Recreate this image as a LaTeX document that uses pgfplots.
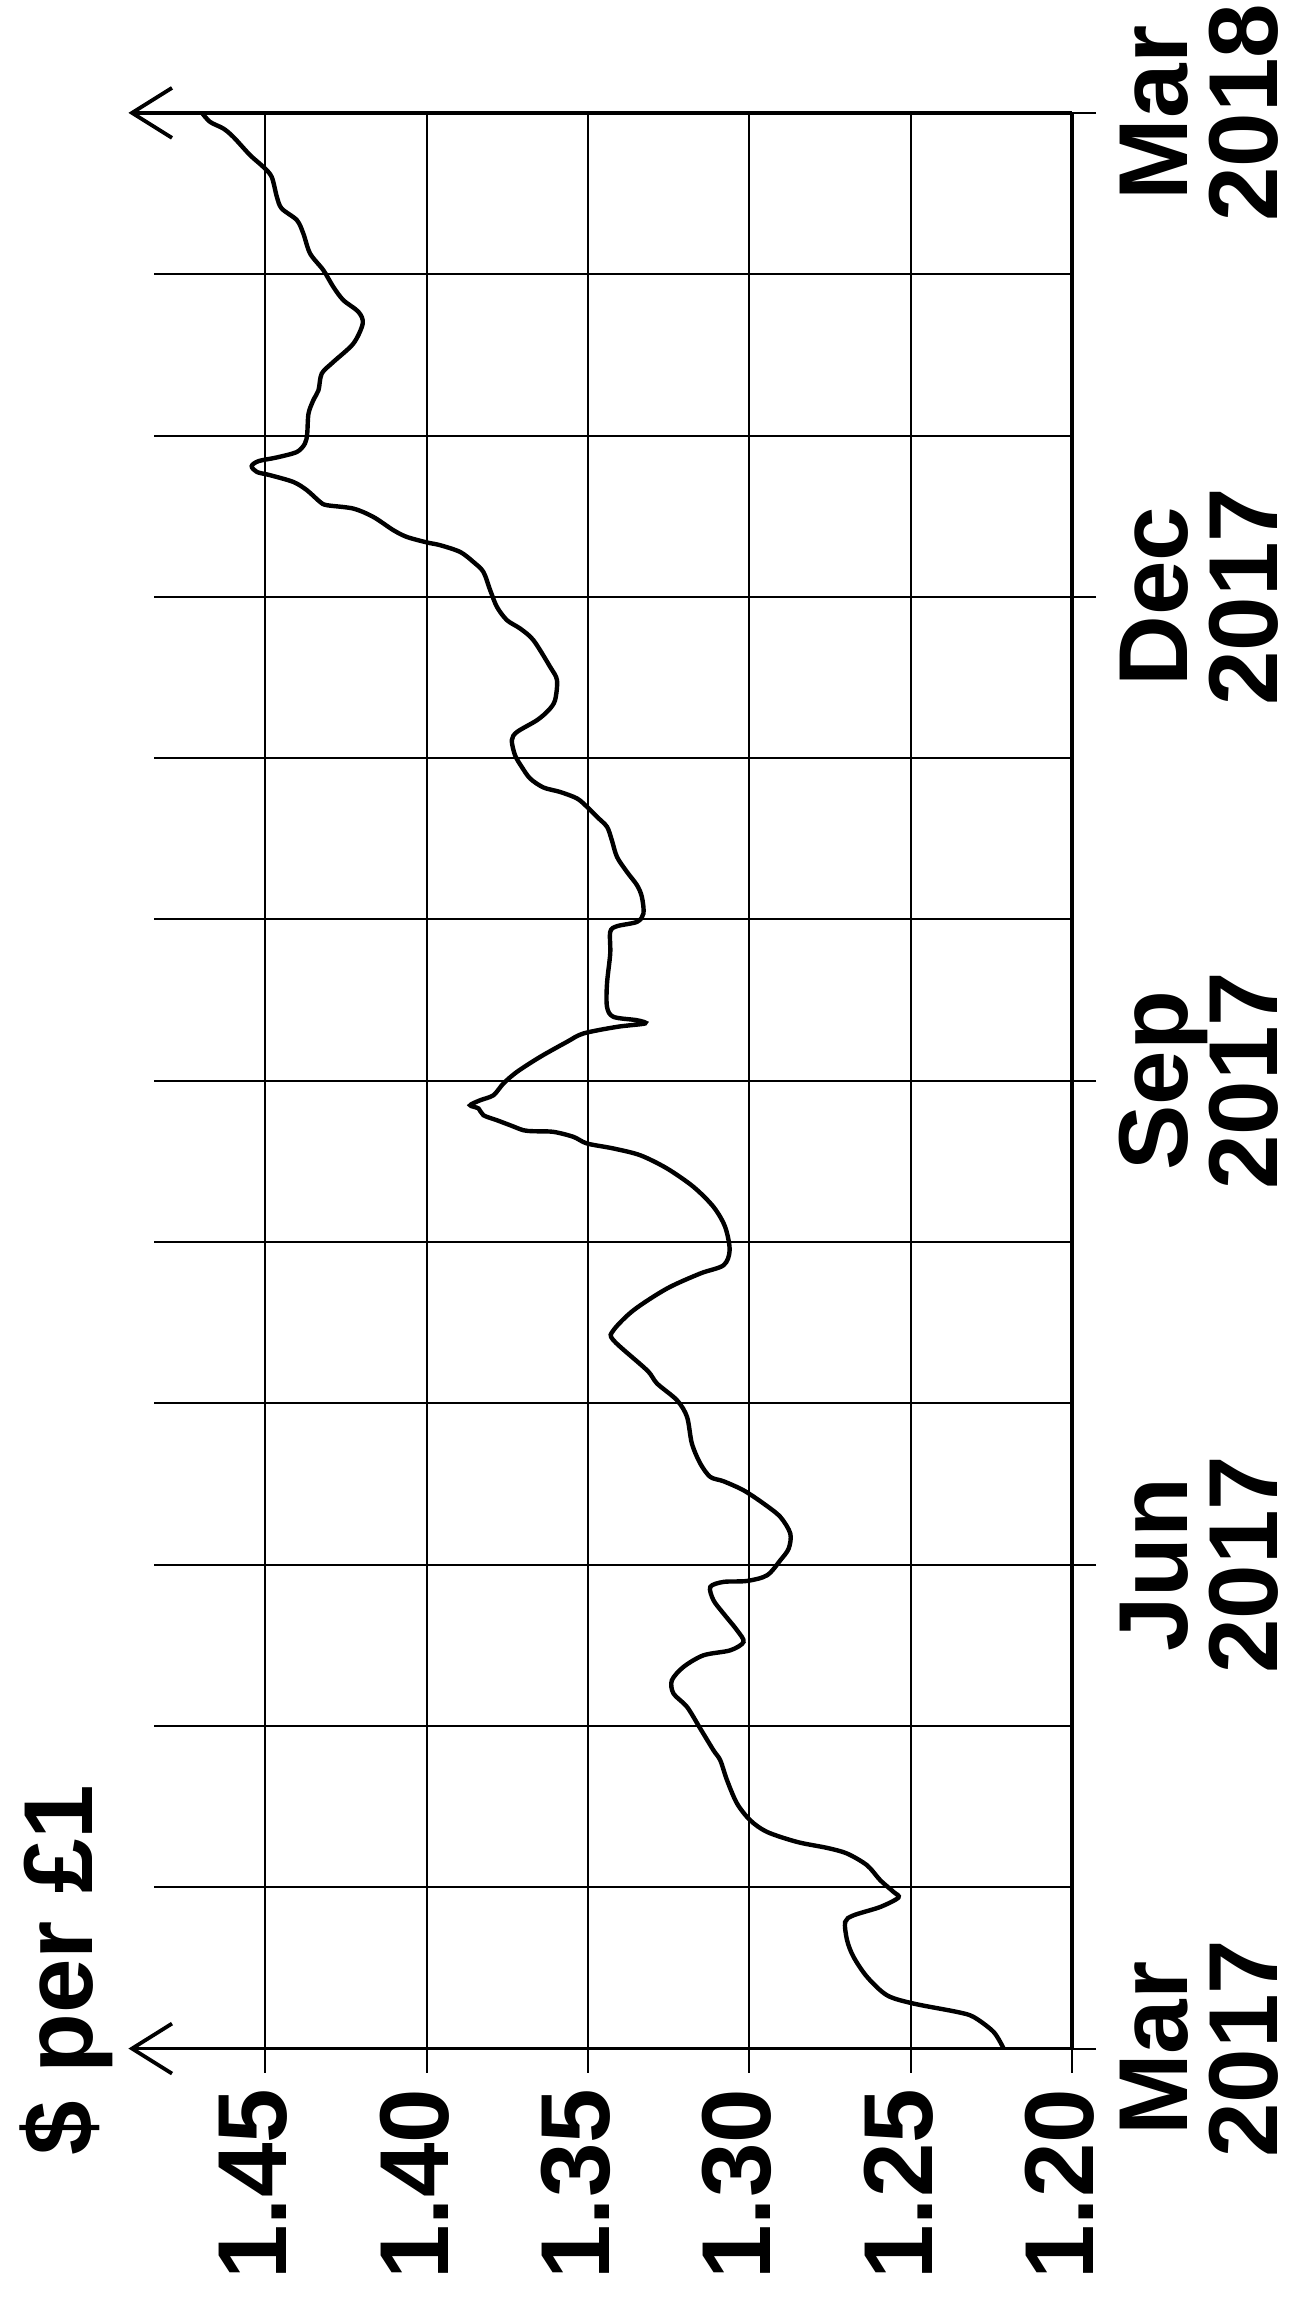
\documentclass[border=0pt]{standalone}
\usepackage{fontspec}
\setmainfont{Liberation Sans}
\usepackage{pgfplots}
\pgfplotsset{compat=1.18}
\usetikzlibrary{arrows.meta}
\pgfplotstableread{
v t
1.2212 0
1.2243 0.103
1.2305 0.196
1.2356 0.227
1.2491 0.279
1.2573 0.330
1.2635 0.444
1.2677 0.568
1.2697 0.671
1.2703 0.785
1.2677 0.826
1.2594 0.878
1.2538 0.936
1.2553 0.971
1.2594 1.043
1.2635 1.136
1.2697 1.209
1.2759 1.244
1.2852 1.281
1.2945 1.343
1.2997 1.415
1.3038 1.519
1.3069 1.663
1.3090 1.787
1.3111 1.849
1.3152 1.984
1.3193 2.118
1.3235 2.201
1.3240 2.283
1.3204 2.366
1.3142 2.438
1.3059 2.469
1.3018 2.521
1.3038 2.593
1.3080 2.697
1.3111 2.779
1.3121 2.862
1.3080 2.893
1.3007 2.899
1.2945 2.934
1.2904 3.027
1.2878 3.100
1.2873 3.193
1.2904 3.296
1.2956 3.379
1.3018 3.461
1.3080 3.517
1.3121 3.544
1.3152 3.627
1.3178 3.751
1.3193 3.916
1.3224 4.019
1.3286 4.123
1.3317 4.205
1.3421 4.391
1.3421 4.453
1.3359 4.577
1.3255 4.712
1.3152 4.805
1.3080 4.856
1.3061 4.949
1.3075 5.094
1.3111 5.218
1.3173 5.342
1.3255 5.456
1.3338 5.538
1.3421 5.580
1.3503 5.611
1.3545 5.652
1.3607 5.683
1.3669 5.687
1.3700 5.693
1.3741 5.724
1.3782 5.755
1.3824 5.786
1.3839 5.828
1.3865 5.848
1.3834 5.879
1.3793 5.910
1.3762 5.983
1.3720 6.055
1.3648 6.148
1.3565 6.241
1.3514 6.293
1.3410 6.334
1.3323 6.355
1.3348 6.375
1.3421 6.396
1.3441 6.458
1.3441 6.603
1.3431 6.789
1.3431 6.923
1.3410 6.958
1.3348 6.985
1.3328 7.037
1.3333 7.140
1.3348 7.212
1.3379 7.294
1.3410 7.387
1.3426 7.491
1.3441 7.574
1.3472 7.636
1.3503 7.698
1.3534 7.750
1.3586 7.790
1.3638 7.818
1.3679 7.873
1.3705 7.945
1.3726 8.018
1.3736 8.111
1.3720 8.162
1.3658 8.235
1.3622 8.297
1.3602 8.359
1.3596 8.483
1.3617 8.565
1.3669 8.731
1.3710 8.803
1.3751 8.855
1.3782 8.937
1.3803 9.041
1.3824 9.154
1.3855 9.216
1.3896 9.278
1.3958 9.320
1.3999 9.337
1.4061 9.371
1.4103 9.413
1.4165 9.495
1.4227 9.547
1.4309 9.568
1.4330 9.588
1.4371 9.661
1.4413 9.712
1.4485 9.754
1.4526 9.774
1.4542 9.810
1.4521 9.841
1.4464 9.864
1.4402 9.898
1.4377 9.950
1.4370 10.012
1.4366 10.136
1.4351 10.219
1.4335 10.281
1.4325 10.384
1.4289 10.456
1.4227 10.570
1.4198 10.694
1.4211 10.766
1.4258 10.839
1.4289 10.921
1.4320 11.025
1.4361 11.128
1.4382 11.252
1.4402 11.335
1.4449 11.407
1.4464 11.479
1.4480 11.603
1.4506 11.665
1.4547 11.738
1.4599 11.851
1.4630 11.903
1.4671 11.944
1.4696 12.0
}\gbpusd
\begin{document}
\begin{tikzpicture}[lab/.style={font=\fontsize{24.5bp}{24.5bp}\selectfont\bfseries, inner sep=0pt, text depth=0pt, rotate=90}]
\begin{scope}[x=0.25bp,y=-0.25bp]
\path[use as bounding box] (0,0) rectangle (1298,2297);
\end{scope}
\begin{axis}[
  at={(268bp,-512.125bp)}, anchor=south east,
  x=806.75bp, y=40.325bp,
  x dir=reverse,
  xmin=1.2, xmax=1.4845, ymin=0, ymax=12,
  axis line style={draw=none},
  clip=false,
  xtick={1.2,1.25,1.3,1.35,1.4,1.45},
  ytick={0,3,6,9,12},
  minor ytick={1,2,4,5,7,8,10,11},
  xticklabels={}, yticklabels={},
  xtick pos=lower, ytick pos=upper,
  tick align=outside,
  major tick length=6bp, minor tick length=0pt,
  major tick style={line width=0.5bp, black},
  xmajorgrids, ymajorgrids, yminorgrids,
  major grid style={line width=0.5bp, black},
  minor grid style={line width=0.5bp, black},
]
\addplot[black, line width=1.1bp, smooth, tension=0.5] table[x=v, y=t] {\gbpusd};
\draw[line width=0.95bp] (axis cs:1.2,0) -- (axis cs:1.2,12);
\draw[line width=0.95bp, -{Straight Barb[length=10bp,width=12.5bp]}] (axis cs:1.2,0) -- (axis cs:1.4924,0);
\draw[line width=0.95bp, -{Straight Barb[length=10bp,width=12.5bp]}] (axis cs:1.2,12) -- (axis cs:1.4924,12);
\end{axis}
\begin{scope}[x=0.25bp,y=-0.25bp]
\node[lab, anchor=base east] at (286.7,2088) {1.45};
\node[lab, anchor=base east] at (448.1,2088) {1.40};
\node[lab, anchor=base east] at (609.5,2088) {1.35};
\node[lab, anchor=base east] at (770.9,2088) {1.30};
\node[lab, anchor=base east] at (932.3,2088) {1.25};
\node[lab, anchor=base east] at (1093.7,2088) {1.20};
\node[lab, anchor=base] at (1187,2048.5) {Mar};
\node[lab, anchor=base] at (1277,2048.5) {2017};
\node[lab, anchor=base] at (1187,1564.6) {Jun};
\node[lab, anchor=base] at (1277,1564.6) {2017};
\node[lab, anchor=base] at (1187,1080.7) {Sep};
\node[lab, anchor=base] at (1277,1080.7) {2017};
\node[lab, anchor=base] at (1187,596.8) {Dec};
\node[lab, anchor=base] at (1277,596.8) {2017};
\node[lab, anchor=base] at (1187,112.9) {Mar};
\node[lab, anchor=base] at (1277,112.9) {2018};
\node[lab, anchor=base west] at (92,2156) {\$ per £1};
\end{scope}
\end{tikzpicture}
\end{document}
